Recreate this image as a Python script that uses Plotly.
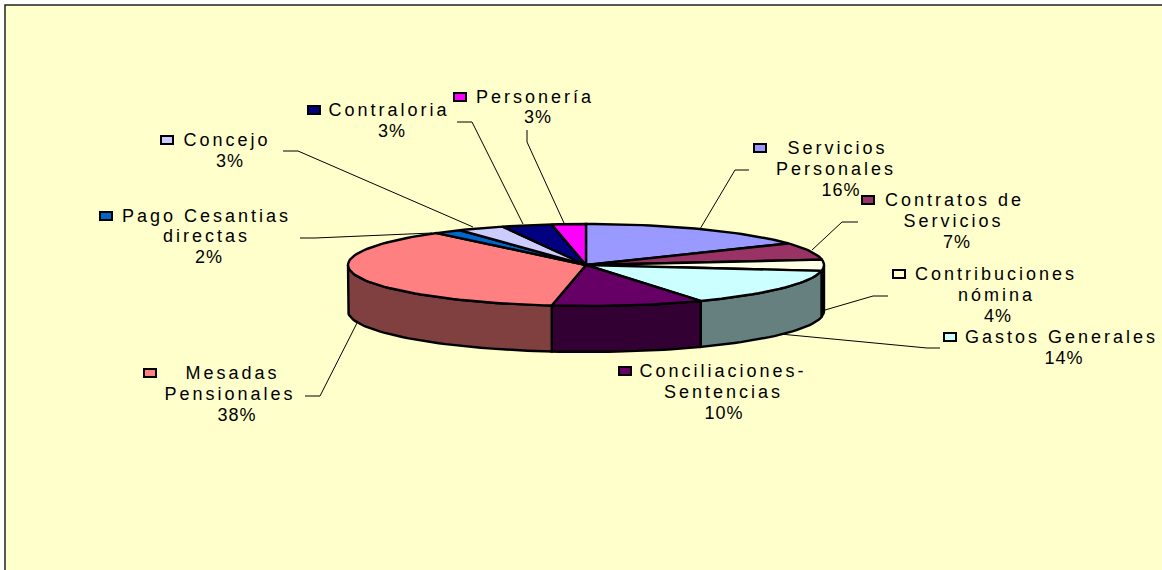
import math
import plotly.graph_objects as go

# ---- data ----
categories = ["Servicios Personales", "Contratos de Servicios", "Contribuciones nómina",
              "Gastos Generales", "Conciliaciones-Sentencias", "Mesadas Pensionales",
              "Pago Cesantias directas", "Concejo", "Contraloria", "Personería"]
values = [16.2, 6.7, 4.4, 14.7, 10.3, 36.9, 1.9, 3.2, 3.4, 2.3]
percent_labels = ["16%", "7%", "4%", "14%", "10%", "38%", "2%", "3%", "3%", "3%"]
label_lines = [["Servicios", "Personales"], ["Contratos de", "Servicios"], ["Contribuciones", "nómina"],
               ["Gastos Generales"], ["Conciliaciones-", "Sentencias"], ["Mesadas", "Pensionales"],
               ["Pago Cesantias", "directas"], ["Concejo"], ["Contraloria"], ["Personería"]]

# ---- styling / layout ----
top_colors = ["#9999FF", "#993366", "#FFFFE6", "#CCFFFF", "#660066", "#FF8080", "#0066CC", "#CCCCFF", "#000080", "#FF00FF"]
side_colors = ["#4D4D80", "#4D1A33", "#000000", "#668080", "#330033", "#804040", "#003366", "#666680", "#000040", "#800080"]
key_colors = ["#9999FF", "#993366", "#FFFFCC", "#CCFFFF", "#660066", "#FF8080", "#0066CC", "#CCCCFF", "#000080", "#FF00FF"]
W, H = 1162, 570
CX, CY, RX, RY, DEPTH = 586, 265, 238, 41, 46
BG = "#FFFFCC"
# per category: key centre, name-line centres, percent centre
label_pos = [
    dict(key=(760, 148), lines=[(837, 148), (836, 169)], pct=(841, 190)),
    dict(key=(868, 200), lines=[(954, 200), (953, 221)], pct=(957, 242)),
    dict(key=(899, 274), lines=[(996, 274), (997, 295)], pct=(998, 316)),
    dict(key=(950, 337), lines=[(1061, 337)], pct=(1064, 358)),
    dict(key=(625, 371), lines=[(723, 371), (723, 392)], pct=(724, 413)),
    dict(key=(150, 373), lines=[(232, 373), (230, 394)], pct=(237, 415)),
    dict(key=(106, 216), lines=[(206, 216), (206, 236)], pct=(209, 257)),
    dict(key=(167, 140), lines=[(227, 140)], pct=(230, 161)),
    dict(key=(314, 110), lines=[(389, 110)], pct=(392, 131)),
    dict(key=(460, 97), lines=[(535, 97)], pct=(538, 117)),
]
leaders = [
    [(700, 229), (735, 170), (749, 170)],
    [(812, 250), (842, 222), (858, 222)],
    [(825, 310), (873, 296), (888, 296)],
    [(780, 334), (927, 348), (940, 348)],
    [(357, 323), (320, 396), (305, 396)],
    [(300, 238), (315, 238), (432, 233)],
    [(283, 151), (298, 151), (473, 227)],
    [(457, 122), (472, 122), (523, 224)],
    [(527, 130), (527, 142), (564, 223)],
]


def pt(a, dy=0):
    r = math.radians(a)
    return CX + RX * math.sin(r), CY - RY * math.cos(r) + dy


def arc(a1, a2, dy=0):
    n = max(2, int(abs(a2 - a1) / 2) + 2)
    return [pt(a1 + (a2 - a1) * i / (n - 1), dy) for i in range(n)]


fig = go.Figure()
total = sum(values)
spans = []
start = 0.0
for v in values:
    spans.append((start, start + v / total * 360))
    start += v / total * 360


def poly(points, color, name, width=2.4):
    fig.add_trace(go.Scatter(x=[p[0] for p in points] + [points[0][0]],
                             y=[p[1] for p in points] + [points[0][1]],
                             mode="lines", fill="toself", fillcolor=color,
                             line=dict(color="black", width=width, shape="linear"),
                             name=name, hoverinfo="skip", showlegend=False))


# walls (only the front half of the disc shows)
for (a1, a2), col, name in zip(spans, side_colors, categories):
    lo, hi = max(a1, 90), min(a2, 270)
    if hi > lo:
        poly(arc(lo, hi) + arc(hi, lo, DEPTH), col, name)
# top faces
for (a1, a2), col, name in zip(spans, top_colors, categories):
    poly([(CX, CY)] + arc(a1, a2), col, name)
# leader lines
for seg in leaders:
    fig.add_trace(go.Scatter(x=[p[0] for p in seg], y=[p[1] for p in seg], mode="lines",
                             line=dict(color="black", width=1), hoverinfo="skip", showlegend=False))

shapes = [dict(type="rect", xref="x", yref="y", x0=5, y0=5, x1=W + 20, y1=H + 20, fillcolor=BG,
               line=dict(color="#222222", width=1.5), layer="below")]
annotations = []
font = dict(family="Liberation Sans, Arial, sans-serif", size=18, color="black")
for pct, lines, pos, col in zip(percent_labels, label_lines, label_pos, key_colors):
    kx, ky = pos["key"]
    shapes.append(dict(type="rect", xref="x", yref="y", x0=kx - 6, x1=kx + 6, y0=ky - 4, y1=ky + 4,
                       fillcolor=col, line=dict(color="black", width=2), layer="above"))
    for text, (x, y) in zip(lines, pos["lines"]):
        annotations.append(dict(x=x, y=y, text=text, showarrow=False, xanchor="center", yanchor="middle", font=font))
    x, y = pos["pct"]
    annotations.append(dict(x=x, y=y, text=pct, showarrow=False, xanchor="center", yanchor="middle", font=font))

fig.update_layout(width=W, height=H, margin=dict(l=0, r=0, t=0, b=0), paper_bgcolor="white",
                  plot_bgcolor="white", showlegend=False, shapes=shapes, annotations=annotations,
                  xaxis=dict(range=[0, W], visible=False, fixedrange=True),
                  yaxis=dict(range=[H, 0], visible=False, fixedrange=True))

post = """
document.body.style.margin='0';
document.documentElement.style.overflow='hidden';
document.querySelectorAll('.annotation-text').forEach(function(t){
  t.style.letterSpacing = t.textContent.endsWith('%') ? '1px' : '3px';
  t.style.webkitTextStroke = '0.25px black';
});
"""
fig.write_html("out.html", post_script=post, config={"displayModeBar": False})
